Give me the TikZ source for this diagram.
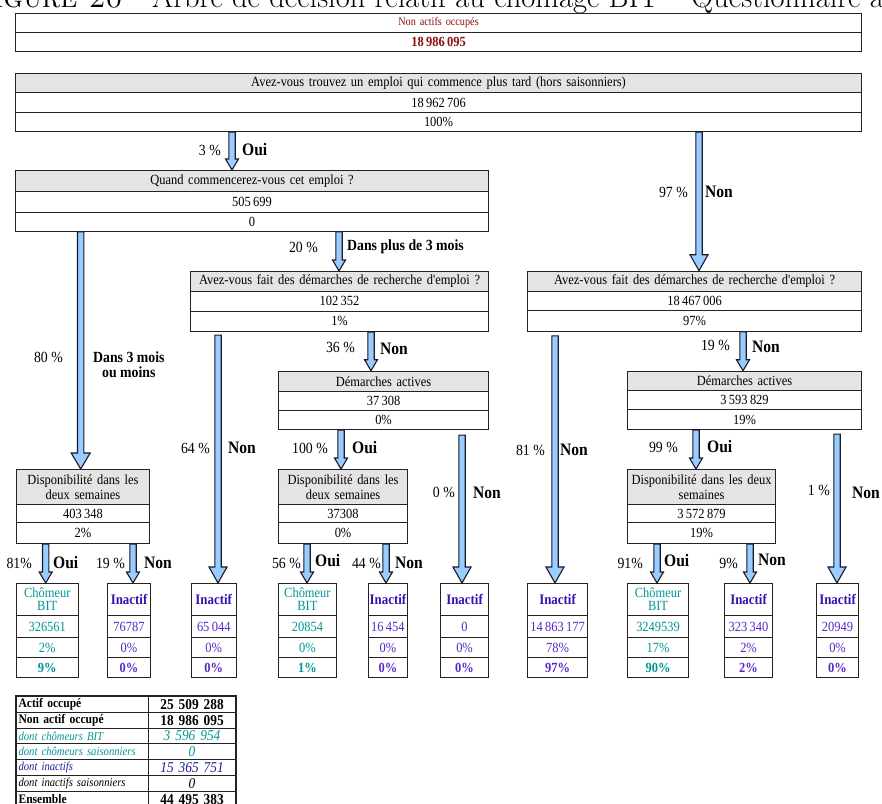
\documentclass[tikz,border=0pt]{standalone}
\usepackage{fontspec}
\newfontfamily\tnr{Liberation Serif}[FakeStretch=0.89]
\usetikzlibrary{calc}
\definecolor{bordc}{RGB}{35,35,35}
\definecolor{hdrgray}{RGB}{228,228,228}
\definecolor{darkred}{RGB}{140,15,15}
\definecolor{tealc}{RGB}{0,150,150}
\definecolor{inachdr}{RGB}{55,15,175}
\definecolor{inacnum}{RGB}{90,40,200}
\definecolor{arrfill}{RGB}{153,204,255}
\definecolor{arrline}{RGB}{25,25,40}
\definecolor{navyc}{RGB}{30,30,150}

\newcommand{\cell}[7]{%
  \pgfmathsetmacro\cw{#3-#2}%
  \pgfmathsetmacro\ch{#5-#4}%
  \node[cellbase,#6,text width=\cw pt,minimum height=\ch pt,anchor=north west] (#1) at (#2,#4) {#7};}

\newcommand{\leaf}[8]{%
  \cell{#1h}{#2}{#3}{583}{615}{#4,#4h}{#5}%
  \cell{#1a}{#2}{#3}{615}{637}{#4}{#6}%
  \cell{#1b}{#2}{#3}{637}{657}{#4}{#7}%
  \cell{#1c}{#2}{#3}{657}{677}{#4,lastrow}{#8}}

% block arrow: x, from node, to node, head width, head length, gap
\newcommand{\barr}[6]{%
  \path[blockarrow] let \p1=(#2.south), \p2=(#3.north) in
   (#1pt-3.2pt,\y1-#6pt) -- (#1pt-3.2pt,\y2+#5pt) -- (#1pt-#4pt/2,\y2+#5pt)
   -- (#1pt,\y2) -- (#1pt+#4pt/2,\y2+#5pt) -- (#1pt+3.2pt,\y2+#5pt)
   -- (#1pt+3.2pt,\y1-#6pt) -- cycle;}

\begin{document}
\begin{tikzpicture}[x=1pt,y=-1pt,
  cellbase/.style={draw=bordc,line width=1.1pt,fill=white,inner xsep=0pt,inner ysep=0pt,
     align=center,font=\tnr\fontsize{14}{15}\selectfont},
  hdr/.style={fill=hdrgray},
  cho/.style={text=tealc},
  choh/.style={font=\tnr\fontsize{14}{13}\selectfont},
  ina/.style={text=inacnum},
  inah/.style={text=inachdr,font=\tnr\fontsize{14.5}{15}\selectfont\bfseries},
  lastrow/.style={font=\tnr\fontsize{14}{15}\selectfont\bfseries},
  tleft/.style={align=left,font=\tnr\fontsize{12}{13}\selectfont},
  tright/.style={font=\tnr\fontsize{15}{16}\selectfont},
  blockarrow/.style={draw=arrline,fill=arrfill,line width=1.1pt,line join=miter},
  pct/.style={inner sep=0pt,font=\tnr\fontsize{15.5}{17}\selectfont},
  lab/.style={inner sep=0pt,font=\tnr\fontsize{17.5}{17}\selectfont\bfseries,align=center},
  captext/.style={inner sep=0pt,font=\fontsize{30.5}{34}\selectfont}
]
\useasboundingbox (0,0) rectangle (882,803);

% caption (cut off at top)
\node[captext,anchor=base east] (caption1) at (146,7.3) {\textsc{Figure 20} \textendash};
\node[captext,anchor=base west] (caption2) at (152,7.3)
  {Arbre de décision relatif au chômage BIT \textendash{} Questionnaire à};

% top box
\cell{t0}{15}{861}{12.7}{32.3}{text=darkred,font=\tnr\fontsize{11.5}{13}\selectfont}{Non actifs occupés}
\cell{t1}{15}{861}{32.3}{51}{text=darkred,font=\tnr\fontsize{14}{14}\selectfont\bfseries}{18\,986\,095}

% box A
\cell{a0}{15}{861}{72.7}{92.3}{hdr}{Avez-vous trouvez un emploi qui commence plus tard (hors saisonniers)}
\cell{a1}{15}{861}{92.3}{111.7}{}{18\,962\,706}
\cell{a2}{15}{861}{111.7}{131}{}{100\%}

% box Q
\cell{q0}{15}{488}{170}{191}{hdr}{Quand commencerez-vous cet emploi ?}
\cell{q1}{15}{488}{191}{211.7}{}{505\,699}
\cell{q2}{15}{488}{211.7}{230.7}{}{0}

% box M
\cell{m0}{190}{488}{271}{291}{hdr}{Avez-vous fait des démarches de recherche d'emploi ?}
\cell{m1}{190}{488}{291}{310.7}{}{102\,352}
\cell{m2}{190}{488}{310.7}{331}{}{1\%}

% box R
\cell{r0}{527}{861}{270.7}{290.7}{hdr}{Avez-vous fait des démarches de recherche d'emploi ?}
\cell{r1}{527}{861}{290.7}{310}{}{18\,467\,006}
\cell{r2}{527}{861}{310}{330.7}{}{97\%}

% Demarches actives
\cell{md0}{278}{488}{370.7}{390.7}{hdr}{Démarches actives}
\cell{md1}{278}{488}{390.7}{410}{}{37\,308}
\cell{md2}{278}{488}{410}{429}{}{0\%}
\cell{rd0}{627}{861}{370.7}{390}{hdr}{Démarches actives}
\cell{rd1}{627}{861}{390}{409}{}{3\,593\,829}
\cell{rd2}{627}{861}{409}{429}{}{19\%}

% Disponibilite
\cell{ld0}{15.7}{149}{469}{504}{hdr}{Disponibilité dans les\\deux semaines}
\cell{ld1}{15.7}{149}{504}{522}{}{403\,348}
\cell{ld2}{15.7}{149}{522}{543}{}{2\%}
\cell{mp0}{278}{407}{469}{504}{hdr}{Disponibilité dans les\\deux semaines}
\cell{mp1}{278}{407}{504}{522}{}{37308}
\cell{mp2}{278}{407}{522}{543}{}{0\%}
\cell{rp0}{627}{775}{469}{504}{hdr}{Disponibilité dans les deux\\semaines}
\cell{rp1}{627}{775}{504}{522}{}{3\,572\,879}
\cell{rp2}{627}{775}{522}{543}{}{19\%}

% leaves
\leaf{l1}{15.7}{77.7}{cho}{Chômeur\\BIT}{326561}{2\%}{9\%}
\leaf{l2}{107}{150}{ina}{Inactif}{76787}{0\%}{0\%}
\leaf{l3}{190.7}{235.7}{ina}{Inactif}{65\,044}{0\%}{0\%}
\leaf{l4}{277.7}{336}{cho}{Chômeur\\BIT}{20854}{0\%}{1\%}
\leaf{l5}{368}{406.7}{ina}{Inactif}{16\,454}{0\%}{0\%}
\leaf{l6}{440}{488}{ina}{Inactif}{0}{0\%}{0\%}
\leaf{l7}{527}{587}{ina}{Inactif}{14\,863\,177}{78\%}{97\%}
\leaf{l8}{627}{688}{cho}{Chômeur\\BIT}{3249539}{17\%}{90\%}
\leaf{l9}{724}{772}{ina}{Inactif}{323\,340}{2\%}{2\%}
\leaf{l10}{816}{858}{ina}{Inactif}{20949}{0\%}{0\%}

% arrows
\barr{232}{a2}{q0}{13}{11}{0}
\barr{699}{a2}{r0}{18}{16}{0}
\barr{339}{q2}{m0}{13}{11}{0}
\barr{80.7}{q2}{ld0}{19}{16}{0}
\barr{218}{m2}{l3h}{18}{16}{3}
\barr{371}{m2}{md0}{13}{11}{0}
\barr{341}{md2}{mp0}{13}{11}{0}
\barr{462}{md2}{l6h}{18}{16}{5}
\barr{555}{r2}{l7h}{18}{16}{4}
\barr{743}{r2}{rd0}{13}{11}{0}
\barr{696}{rd2}{rp0}{13}{11}{0}
\barr{837}{rd2}{l10h}{18}{16}{4}
\barr{45.7}{ld2}{l1h}{13}{11}{0}
\barr{133}{ld2}{l2h}{13}{11}{0}
\barr{307}{mp2}{l4h}{13}{11}{0}
\barr{386}{mp2}{l5h}{13}{11}{0}
\barr{657}{rp2}{l8h}{13}{11}{0}
\barr{750}{rp2}{l9h}{13}{11}{0}

% labels
\node[pct,anchor=east] (p1) at (221,150) {3 \%};
\node[lab,anchor=west] (o1) at (242,150) {Oui};
\node[pct,anchor=east] (p2) at (688,192) {97 \%};
\node[lab,anchor=west] (o2) at (705,192) {Non};
\node[pct,anchor=east] (p3) at (318,247) {20 \%};
\node[lab,anchor=west,font=\tnr\fontsize{15.5}{17}\selectfont\bfseries] (o3) at (347,247) {Dans plus de 3 mois};
\node[pct,anchor=east] (p4) at (63,357) {80 \%};
\node[lab,anchor=west,font=\tnr\fontsize{15.5}{15}\selectfont\bfseries] (o4) at (93,364.5) {Dans 3 mois\\ou moins};
\node[pct,anchor=east] (p5) at (210,448) {64 \%};
\node[lab,anchor=west] (o5) at (228,448) {Non};
\node[pct,anchor=east] (p6) at (355,347) {36 \%};
\node[lab,anchor=west] (o6) at (380,349) {Non};
\node[pct,anchor=east] (p7) at (328,448) {100 \%};
\node[lab,anchor=west] (o7) at (352,448) {Oui};
\node[pct,anchor=east] (p8) at (455,492) {0 \%};
\node[lab,anchor=west] (o8) at (473,493) {Non};
\node[pct,anchor=east] (p9) at (545,450) {81 \%};
\node[lab,anchor=west] (o9) at (560,450) {Non};
\node[pct,anchor=east] (p10) at (730,345) {19 \%};
\node[lab,anchor=west] (o10) at (752,347) {Non};
\node[pct,anchor=east] (p11) at (678,447) {99 \%};
\node[lab,anchor=west] (o11) at (707,447) {Oui};
\node[pct,anchor=east] (p12) at (830,490) {1 \%};
\node[lab,anchor=west] (o12) at (852,493) {Non};
\node[pct,anchor=east] (p13) at (32,563) {81\%};
\node[lab,anchor=west] (o13) at (53,563) {Oui};
\node[pct,anchor=east] (p14) at (125,563) {19 \%};
\node[lab,anchor=west] (o14) at (144,563) {Non};
\node[pct,anchor=east] (p15) at (301,563) {56 \%};
\node[lab,anchor=west] (o15) at (315,561) {Oui};
\node[pct,anchor=east] (p16) at (381,563) {44 \%};
\node[lab,anchor=west] (o16) at (395,563) {Non};
\node[pct,anchor=east] (p17) at (643,563) {91\%};
\node[lab,anchor=west] (o17) at (664,561) {Oui};
\node[pct,anchor=east] (p18) at (738,563) {9\%};
\node[lab,anchor=west] (o18) at (758,560) {Non};

% summary table
\cell{tl1}{16}{148}{696}{711.7}{tleft,font=\tnr\fontsize{13}{14}\selectfont\bfseries}{\hspace{2pt}Actif occupé}
\cell{tr1}{148}{235}{696}{711.7}{tright,font=\tnr\fontsize{15}{16}\selectfont\bfseries}{25 509 288}
\cell{tl2}{16}{148}{711.7}{727.7}{tleft,font=\tnr\fontsize{13}{14}\selectfont\bfseries}{\hspace{2pt}Non actif occupé}
\cell{tr2}{148}{235}{711.7}{727.7}{tright,font=\tnr\fontsize{15}{16}\selectfont\bfseries}{18 986 095}
\cell{tl3}{16}{148}{727.7}{743.3}{tleft,text=tealc,font=\tnr\fontsize{12}{13}\selectfont\itshape}{\hspace{2pt}dont chômeurs BIT}
\cell{tr3}{148}{235}{727.7}{743.3}{tright,text=tealc,font=\tnr\fontsize{15}{16}\selectfont\itshape}{3 596 954}
\cell{tl4}{16}{148}{743.3}{759.3}{tleft,text=tealc,font=\tnr\fontsize{12}{13}\selectfont\itshape}{\hspace{2pt}dont chômeurs saisonniers}
\cell{tr4}{148}{235}{743.3}{759.3}{tright,text=tealc,font=\tnr\fontsize{15}{16}\selectfont\itshape}{0}
\cell{tl5}{16}{148}{759.3}{775}{tleft,text=navyc,font=\tnr\fontsize{12}{13}\selectfont\itshape}{\hspace{2pt}dont inactifs}
\cell{tr5}{148}{235}{759.3}{775}{tright,text=navyc,font=\tnr\fontsize{15}{16}\selectfont\itshape}{15 365 751}
\cell{tl6}{16}{148}{775}{790.7}{tleft,font=\tnr\fontsize{12}{13}\selectfont\itshape}{\hspace{2pt}dont inactifs saisonniers}
\cell{tr6}{148}{235}{775}{790.7}{tright,font=\tnr\fontsize{15}{16}\selectfont\itshape}{0}
\cell{tl7}{16}{148}{790.7}{806.5}{tleft,font=\tnr\fontsize{13}{14}\selectfont\bfseries}{\hspace{2pt}Ensemble}
\cell{tr7}{148}{235}{790.7}{806.5}{tright,font=\tnr\fontsize{15}{16}\selectfont\bfseries}{44 495 383}
\draw[bordc,line width=1.8pt] (tl1.north west) rectangle (tr7.south east);
\end{tikzpicture}
\end{document}
